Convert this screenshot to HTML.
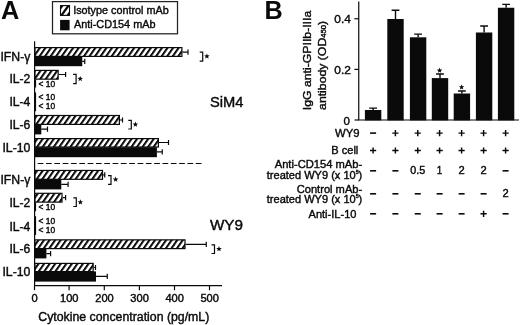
<!DOCTYPE html>
<html><head><meta charset="utf-8"><title>Figure</title>
<style>
html,body{margin:0;padding:0;background:#fff;}
body{width:520px;height:325px;overflow:hidden;}
svg{display:block;filter:grayscale(1);font-family:"Liberation Sans",sans-serif;fill:#0a0a0a;}
text{stroke:#0a0a0a;stroke-width:0.4px;}
</style></head><body>
<svg width="520" height="325" viewBox="0 0 520 325">
<defs>
<pattern id="h" patternUnits="userSpaceOnUse" width="5.55" height="20" patternTransform="skewX(-35)">
<rect x="0" y="0" width="5.55" height="20" fill="#fff"/>
<rect x="0" y="0" width="2.45" height="20" fill="#0a0a0a"/>
</pattern>
</defs>
<rect x="0" y="0" width="520" height="325" fill="#fff"/>

<text x="1.1" y="18.9" font-size="25.3" text-anchor="start" font-weight="bold" style="stroke-width:0">A</text>
<rect x="52.5" y="1.6" width="125" height="32.2" fill="#fff" stroke="#222" stroke-width="1.25"/>
<clipPath id="sw"><rect x="60.5" y="5.6" width="9" height="9.8"/></clipPath>
<g clip-path="url(#sw)" stroke="#0a0a0a" stroke-width="2.2" fill="none"><path d="M55.12,15.74 L66.74,-0.54 M59.19,18.64 L70.81,2.36 M63.26,21.54 L74.88,5.26"/></g>
<rect x="60.5" y="5.6" width="9" height="9.8" fill="none" stroke="#0a0a0a" stroke-width="1.1"/>
<rect x="60.1" y="19.9" width="9.5" height="10.4" fill="#0a0a0a"/>
<text x="73.2" y="14.1" font-size="11" text-anchor="start" textLength="95.5" lengthAdjust="spacingAndGlyphs" >Isotype control mAb</text>
<text x="74.0" y="27.6" font-size="11" text-anchor="start" textLength="81.5" lengthAdjust="spacingAndGlyphs" >Anti-CD154 mAb</text>
<path d="M34.6,41.3 V285.6 H222" fill="none" stroke="#0a0a0a" stroke-width="1.2"/>
<path d="M34.5,285.6 V290.2" stroke="#0a0a0a" stroke-width="1.2"/>
<text x="34.7" y="301.5" font-size="10.4" text-anchor="middle" textLength="6.2" lengthAdjust="spacingAndGlyphs" >0</text>
<path d="M69.1,285.6 V290.2" stroke="#0a0a0a" stroke-width="1.2"/>
<text x="69.3" y="301.5" font-size="10.4" text-anchor="middle" textLength="18.5" lengthAdjust="spacingAndGlyphs" >100</text>
<path d="M104.3,285.6 V290.2" stroke="#0a0a0a" stroke-width="1.2"/>
<text x="104.5" y="301.5" font-size="10.4" text-anchor="middle" textLength="18.5" lengthAdjust="spacingAndGlyphs" >200</text>
<path d="M139.4,285.6 V290.2" stroke="#0a0a0a" stroke-width="1.2"/>
<text x="139.6" y="301.5" font-size="10.4" text-anchor="middle" textLength="18.5" lengthAdjust="spacingAndGlyphs" >300</text>
<path d="M174.5,285.6 V290.2" stroke="#0a0a0a" stroke-width="1.2"/>
<text x="174.7" y="301.5" font-size="10.4" text-anchor="middle" textLength="18.5" lengthAdjust="spacingAndGlyphs" >400</text>
<path d="M209.5,285.6 V290.2" stroke="#0a0a0a" stroke-width="1.2"/>
<text x="209.7" y="301.5" font-size="10.4" text-anchor="middle" textLength="18.5" lengthAdjust="spacingAndGlyphs" >500</text>
<text x="38.3" y="320.6" font-size="12" text-anchor="start" textLength="171" lengthAdjust="spacingAndGlyphs" >Cytokine concentration (pg/mL)</text>
<path d="M37.7,163.5 H202" stroke="#0a0a0a" stroke-width="1.1" stroke-dasharray="5.7,2.62" fill="none"/>
<text x="30.4" y="61" font-size="12" text-anchor="end" textLength="30" lengthAdjust="spacingAndGlyphs" >IFN-γ</text>
<text x="30.4" y="83.2" font-size="12" text-anchor="end" textLength="21" lengthAdjust="spacingAndGlyphs" >IL-2</text>
<text x="30.4" y="105.7" font-size="12" text-anchor="end" textLength="21" lengthAdjust="spacingAndGlyphs" >IL-4</text>
<text x="30.4" y="129" font-size="12" text-anchor="end" textLength="21" lengthAdjust="spacingAndGlyphs" >IL-6</text>
<text x="30.4" y="151.5" font-size="12" text-anchor="end" textLength="28" lengthAdjust="spacingAndGlyphs" >IL-10</text>
<text x="30.4" y="183.8" font-size="12" text-anchor="end" textLength="30" lengthAdjust="spacingAndGlyphs" >IFN-γ</text>
<text x="30.4" y="207.2" font-size="12" text-anchor="end" textLength="21" lengthAdjust="spacingAndGlyphs" >IL-2</text>
<text x="30.4" y="230.6" font-size="12" text-anchor="end" textLength="21" lengthAdjust="spacingAndGlyphs" >IL-4</text>
<text x="30.4" y="252.6" font-size="12" text-anchor="end" textLength="21" lengthAdjust="spacingAndGlyphs" >IL-6</text>
<text x="30.4" y="275.6" font-size="12" text-anchor="end" textLength="28" lengthAdjust="spacingAndGlyphs" >IL-10</text>
<text x="210" y="106.6" font-size="14.4" text-anchor="start" textLength="33.5" lengthAdjust="spacingAndGlyphs" >SiM4</text>
<text x="210" y="229.8" font-size="14.4" text-anchor="start" textLength="33" lengthAdjust="spacingAndGlyphs" >WY9</text>
<rect x="35" y="47.6" width="146.9" height="8.80" fill="url(#h)" stroke="#0a0a0a" stroke-width="1.2"/>
<path d="M182.5,52.1 H188 M188,49.5 V54.7" fill="none" stroke="#0a0a0a" stroke-width="1.2"/>
<rect x="35" y="56.6" width="47.25" height="9.60" fill="#0a0a0a"/>
<path d="M82.25,61.4 H84.75 M84.75,58.8 V64.0" fill="none" stroke="#0a0a0a" stroke-width="1.2"/>
<path d="M199.7,52.2 H202.7 V61.2 H199.7" fill="none" stroke="#0a0a0a" stroke-width="1.2" stroke-linejoin="miter"/>
<polygon points="206.90,53.40 207.62,55.31 209.66,55.40 208.06,56.68 208.60,58.65 206.90,57.52 205.20,58.65 205.74,56.68 204.14,55.40 206.18,55.31" fill="#0a0a0a"/>
<rect x="35" y="70.39999999999999" width="23.15" height="8.75" fill="url(#h)" stroke="#0a0a0a" stroke-width="1.2"/>
<path d="M58.75,74.5 H65.6 M65.6,71.9 V77.1" fill="none" stroke="#0a0a0a" stroke-width="1.2"/>
<path d="M73.1,74.4 H76.1 V83.7 H73.1" fill="none" stroke="#0a0a0a" stroke-width="1.2" stroke-linejoin="miter"/>
<polygon points="80.20,75.90 80.92,77.81 82.96,77.90 81.36,79.18 81.90,81.15 80.20,80.02 78.50,81.15 79.04,79.18 77.44,77.90 79.48,77.81" fill="#0a0a0a"/>
<rect x="35" y="115.5" width="84.4" height="8.90" fill="url(#h)" stroke="#0a0a0a" stroke-width="1.2"/>
<path d="M120,120 H122.5 M122.5,117.4 V122.6" fill="none" stroke="#0a0a0a" stroke-width="1.2"/>
<rect x="35" y="124.6" width="6.299999999999997" height="9.80" fill="#0a0a0a"/>
<path d="M41.3,129.1 H47.5 M47.5,126.5 V131.7" fill="none" stroke="#0a0a0a" stroke-width="1.2"/>
<path d="M128.3,120.3 H131.3 V129 H128.3" fill="none" stroke="#0a0a0a" stroke-width="1.2" stroke-linejoin="miter"/>
<polygon points="135.40,121.60 136.12,123.51 138.16,123.60 136.56,124.88 137.10,126.85 135.40,125.72 133.70,126.85 134.24,124.88 132.64,123.60 134.68,123.51" fill="#0a0a0a"/>
<rect x="35" y="138.6" width="123.4" height="8.40" fill="url(#h)" stroke="#0a0a0a" stroke-width="1.2"/>
<path d="M159,142.5 H168.5 M168.5,139.9 V145.1" fill="none" stroke="#0a0a0a" stroke-width="1.2"/>
<rect x="35" y="147.2" width="121.9" height="10.00" fill="#0a0a0a"/>
<path d="M156.9,151.8 H162.25 M162.25,149.20000000000002 V154.4" fill="none" stroke="#0a0a0a" stroke-width="1.2"/>
<rect x="35" y="170.45" width="67.5" height="8.85" fill="url(#h)" stroke="#0a0a0a" stroke-width="1.2"/>
<path d="M103.1,174.875 H104.75 M104.75,172.275 V177.475" fill="none" stroke="#0a0a0a" stroke-width="1.2"/>
<rect x="35" y="179.2" width="26.299999999999997" height="10.20" fill="#0a0a0a"/>
<path d="M61.3,184.3 H68.1 M68.1,181.70000000000002 V186.9" fill="none" stroke="#0a0a0a" stroke-width="1.2"/>
<path d="M108,175.6 H111 V184.4 H108" fill="none" stroke="#0a0a0a" stroke-width="1.2" stroke-linejoin="miter"/>
<polygon points="115.60,176.60 116.32,178.51 118.36,178.60 116.76,179.88 117.30,181.85 115.60,180.72 113.90,181.85 114.44,179.88 112.84,178.60 114.88,178.51" fill="#0a0a0a"/>
<rect x="35" y="193.29999999999998" width="27.0" height="8.80" fill="url(#h)" stroke="#0a0a0a" stroke-width="1.2"/>
<path d="M62.6,197.7 H65.6 M65.6,195.1 V200.29999999999998" fill="none" stroke="#0a0a0a" stroke-width="1.2"/>
<path d="M73.3,197.8 H76.3 V206.5 H73.3" fill="none" stroke="#0a0a0a" stroke-width="1.2" stroke-linejoin="miter"/>
<polygon points="80.40,199.30 81.12,201.21 83.16,201.30 81.56,202.58 82.10,204.55 80.40,203.42 78.70,204.55 79.24,202.58 77.64,201.30 79.68,201.21" fill="#0a0a0a"/>
<rect x="35" y="239.85" width="150.0" height="8.75" fill="url(#h)" stroke="#0a0a0a" stroke-width="1.2"/>
<path d="M185.6,244.4 H206.25 M206.25,241.8 V247.0" fill="none" stroke="#0a0a0a" stroke-width="1.2"/>
<rect x="35" y="248.6" width="11.399999999999999" height="9.80" fill="#0a0a0a"/>
<path d="M46.4,253.7 H50.6 M50.6,251.1 V256.3" fill="none" stroke="#0a0a0a" stroke-width="1.2"/>
<path d="M211.5,244.8 H214.5 V253.5 H211.5" fill="none" stroke="#0a0a0a" stroke-width="1.2" stroke-linejoin="miter"/>
<polygon points="219.00,246.10 219.72,248.01 221.76,248.10 220.16,249.38 220.70,251.35 219.00,250.22 217.30,251.35 217.84,249.38 216.24,248.10 218.28,248.01" fill="#0a0a0a"/>
<rect x="35" y="263.40000000000003" width="58.15" height="8.20" fill="url(#h)" stroke="#0a0a0a" stroke-width="1.2"/>
<path d="M93.75,267.5 H95.5 M95.5,264.9 V270.1" fill="none" stroke="#0a0a0a" stroke-width="1.2"/>
<rect x="35" y="271.4" width="61" height="10.20" fill="#0a0a0a"/>
<path d="M96,276.3 H107.25 M107.25,273.7 V278.90000000000003" fill="none" stroke="#0a0a0a" stroke-width="1.2"/>
<text x="38.6" y="87" font-size="8.2" text-anchor="start" textLength="16.6" lengthAdjust="spacingAndGlyphs" >&lt; 10</text>
<text x="38.6" y="99.7" font-size="8.2" text-anchor="start" textLength="16.6" lengthAdjust="spacingAndGlyphs" >&lt; 10</text>
<text x="38.6" y="108.8" font-size="8.2" text-anchor="start" textLength="16.6" lengthAdjust="spacingAndGlyphs" >&lt; 10</text>
<text x="38.6" y="210.3" font-size="8.2" text-anchor="start" textLength="16.6" lengthAdjust="spacingAndGlyphs" >&lt; 10</text>
<text x="38.6" y="223.8" font-size="8.2" text-anchor="start" textLength="16.6" lengthAdjust="spacingAndGlyphs" >&lt; 10</text>
<text x="38.6" y="233.2" font-size="8.2" text-anchor="start" textLength="16.6" lengthAdjust="spacingAndGlyphs" >&lt; 10</text>
<path d="M35.1,80 V87.5" stroke="#0a0a0a" stroke-width="2"/>
<path d="M35.1,92.5 V111.2" stroke="#0a0a0a" stroke-width="2"/>
<path d="M35.1,202.7 V211.2" stroke="#0a0a0a" stroke-width="2"/>
<path d="M35.1,216.2 V235" stroke="#0a0a0a" stroke-width="2"/>
<text x="264.6" y="19.1" font-size="25.2" text-anchor="start" font-weight="bold" style="stroke-width:0">B</text>
<path d="M358.75,1.5 V120 H519" fill="none" stroke="#0a0a0a" stroke-width="1.2"/>
<path d="M354.4,18.75 H358.75" stroke="#0a0a0a" stroke-width="1.2"/>
<text x="350.9" y="23.05" font-size="11.5" text-anchor="end" textLength="16.6" lengthAdjust="spacingAndGlyphs" >0.4</text>
<path d="M354.4,69.4 H358.75" stroke="#0a0a0a" stroke-width="1.2"/>
<text x="350.9" y="73.7" font-size="11.5" text-anchor="end" textLength="16.6" lengthAdjust="spacingAndGlyphs" >0.2</text>
<text x="350.0" y="124.5" font-size="11.5" text-anchor="end" >0</text>
<path d="M354.6,120 H358.75" stroke="#0a0a0a" stroke-width="1.2"/>
<g transform="translate(311,60.5) rotate(-90)">
<text x="0" y="0" font-size="11.5" text-anchor="middle" textLength="99.5" lengthAdjust="spacingAndGlyphs" >IgG anti-GPIIb-IIIa</text>
</g>
<g transform="translate(326.3,65.4) rotate(-90)">
<text x="0" y="0" font-size="11.5" text-anchor="middle" textLength="89" lengthAdjust="spacingAndGlyphs">antibody (OD<tspan font-size="7.2">450</tspan>)</text>
</g>
<rect x="364.90000000000003" y="110" width="16.4" height="10.40" fill="#0a0a0a"/>
<path d="M373.1,110 V108.1 M369.20000000000005,108.1 H377.0" stroke="#0a0a0a" stroke-width="1.4" fill="none"/>
<rect x="387.3" y="19" width="16.4" height="101.40" fill="#0a0a0a"/>
<path d="M395.5,19 V10.3 M391.6,10.3 H399.4" stroke="#0a0a0a" stroke-width="1.4" fill="none"/>
<rect x="409.90000000000003" y="37.3" width="16.4" height="83.10" fill="#0a0a0a"/>
<path d="M418.1,37.3 V34.1 M414.20000000000005,34.1 H422.0" stroke="#0a0a0a" stroke-width="1.4" fill="none"/>
<rect x="431.8" y="78.1" width="16.4" height="42.30" fill="#0a0a0a"/>
<path d="M440,78.1 V74 M436.1,74 H443.9" stroke="#0a0a0a" stroke-width="1.4" fill="none"/>
<rect x="453.7" y="93.5" width="16.4" height="26.90" fill="#0a0a0a"/>
<path d="M461.9,93.5 V91 M458.0,91 H465.79999999999995" stroke="#0a0a0a" stroke-width="1.4" fill="none"/>
<rect x="475.90000000000003" y="32.5" width="16.4" height="87.90" fill="#0a0a0a"/>
<path d="M484.1,32.5 V26 M480.20000000000005,26 H488.0" stroke="#0a0a0a" stroke-width="1.4" fill="none"/>
<rect x="497.90000000000003" y="7.75" width="16.4" height="112.65" fill="#0a0a0a"/>
<path d="M506.1,7.75 V4.4 M502.20000000000005,4.4 H510.0" stroke="#0a0a0a" stroke-width="1.4" fill="none"/>
<polygon points="439.60,67.60 440.32,69.51 442.36,69.60 440.76,70.88 441.30,72.85 439.60,71.72 437.90,72.85 438.44,70.88 436.84,69.60 438.88,69.51" fill="#0a0a0a"/>
<polygon points="461.60,84.30 462.32,86.21 464.36,86.30 462.76,87.58 463.30,89.55 461.60,88.42 459.90,89.55 460.44,87.58 458.84,86.30 460.88,86.21" fill="#0a0a0a"/>
<path d="M370.1,133.1 H376.1" stroke="#0a0a0a" stroke-width="1.6" fill="none"/>
<path d="M392.29999999999995,133.1 H398.5 M395.4,130.0 V136.2" stroke="#0a0a0a" stroke-width="1.45" fill="none"/>
<path d="M414.65,133.1 H420.85 M417.75,130.0 V136.2" stroke="#0a0a0a" stroke-width="1.45" fill="none"/>
<path d="M436.5,133.1 H442.70000000000005 M439.6,130.0 V136.2" stroke="#0a0a0a" stroke-width="1.45" fill="none"/>
<path d="M458.5,133.1 H464.70000000000005 M461.6,130.0 V136.2" stroke="#0a0a0a" stroke-width="1.45" fill="none"/>
<path d="M480.5,133.1 H486.70000000000005 M483.6,130.0 V136.2" stroke="#0a0a0a" stroke-width="1.45" fill="none"/>
<path d="M502.5,133.1 H508.70000000000005 M505.6,130.0 V136.2" stroke="#0a0a0a" stroke-width="1.45" fill="none"/>
<path d="M370.0,150.5 H376.20000000000005 M373.1,147.4 V153.6" stroke="#0a0a0a" stroke-width="1.45" fill="none"/>
<path d="M392.29999999999995,150.5 H398.5 M395.4,147.4 V153.6" stroke="#0a0a0a" stroke-width="1.45" fill="none"/>
<path d="M414.65,150.5 H420.85 M417.75,147.4 V153.6" stroke="#0a0a0a" stroke-width="1.45" fill="none"/>
<path d="M436.5,150.5 H442.70000000000005 M439.6,147.4 V153.6" stroke="#0a0a0a" stroke-width="1.45" fill="none"/>
<path d="M458.5,150.5 H464.70000000000005 M461.6,147.4 V153.6" stroke="#0a0a0a" stroke-width="1.45" fill="none"/>
<path d="M480.5,150.5 H486.70000000000005 M483.6,147.4 V153.6" stroke="#0a0a0a" stroke-width="1.45" fill="none"/>
<path d="M502.5,150.5 H508.70000000000005 M505.6,147.4 V153.6" stroke="#0a0a0a" stroke-width="1.45" fill="none"/>
<path d="M370.1,170.8 H376.1" stroke="#0a0a0a" stroke-width="1.6" fill="none"/>
<path d="M392.4,170.8 H398.4" stroke="#0a0a0a" stroke-width="1.6" fill="none"/>
<text x="417.75" y="174.3" font-size="11" text-anchor="middle" textLength="15" lengthAdjust="spacingAndGlyphs" >0.5</text>
<text x="439.6" y="174.3" font-size="11" text-anchor="middle" textLength="5.5" lengthAdjust="spacingAndGlyphs" >1</text>
<text x="461.6" y="174.3" font-size="11" text-anchor="middle" textLength="6.2" lengthAdjust="spacingAndGlyphs" >2</text>
<text x="483.6" y="174.3" font-size="11" text-anchor="middle" textLength="6.2" lengthAdjust="spacingAndGlyphs" >2</text>
<path d="M502.6,170.8 H508.6" stroke="#0a0a0a" stroke-width="1.6" fill="none"/>
<path d="M370.1,193.8 H376.1" stroke="#0a0a0a" stroke-width="1.6" fill="none"/>
<path d="M392.4,193.8 H398.4" stroke="#0a0a0a" stroke-width="1.6" fill="none"/>
<path d="M414.75,193.8 H420.75" stroke="#0a0a0a" stroke-width="1.6" fill="none"/>
<path d="M436.6,193.8 H442.6" stroke="#0a0a0a" stroke-width="1.6" fill="none"/>
<path d="M458.6,193.8 H464.6" stroke="#0a0a0a" stroke-width="1.6" fill="none"/>
<path d="M480.6,193.8 H486.6" stroke="#0a0a0a" stroke-width="1.6" fill="none"/>
<text x="505.6" y="197.3" font-size="11" text-anchor="middle" textLength="6.2" lengthAdjust="spacingAndGlyphs" >2</text>
<path d="M370.1,213.8 H376.1" stroke="#0a0a0a" stroke-width="1.6" fill="none"/>
<path d="M392.4,213.8 H398.4" stroke="#0a0a0a" stroke-width="1.6" fill="none"/>
<path d="M414.75,213.8 H420.75" stroke="#0a0a0a" stroke-width="1.6" fill="none"/>
<path d="M436.6,213.8 H442.6" stroke="#0a0a0a" stroke-width="1.6" fill="none"/>
<path d="M458.6,213.8 H464.6" stroke="#0a0a0a" stroke-width="1.6" fill="none"/>
<path d="M480.5,213.8 H486.70000000000005 M483.6,210.70000000000002 V216.9" stroke="#0a0a0a" stroke-width="1.45" fill="none"/>
<path d="M502.6,213.8 H508.6" stroke="#0a0a0a" stroke-width="1.6" fill="none"/>
<text x="359.6" y="137.1" font-size="11" text-anchor="end" textLength="24.5" lengthAdjust="spacingAndGlyphs" >WY9</text>
<text x="358.3" y="153.8" font-size="11" text-anchor="end" textLength="27" lengthAdjust="spacingAndGlyphs" >B cell</text>
<text x="362.2" y="167.6" font-size="11" text-anchor="end" textLength="87.5" lengthAdjust="spacingAndGlyphs" >Anti-CD154 mAb-</text>
<text x="362.3" y="178.5" font-size="11" text-anchor="end" textLength="95.5" lengthAdjust="spacingAndGlyphs">treated WY9 (x 10<tspan font-size="5.2" dy="-4.6">5</tspan><tspan dy="4.6">)</tspan></text>
<text x="362.2" y="192.6" font-size="11" text-anchor="end" textLength="65.5" lengthAdjust="spacingAndGlyphs" >Control mAb-</text>
<text x="362.3" y="202.8" font-size="11" text-anchor="end" textLength="95.5" lengthAdjust="spacingAndGlyphs">treated WY9 (x 10<tspan font-size="5.2" dy="-4.6">5</tspan><tspan dy="4.6">)</tspan></text>
<text x="356.5" y="217.5" font-size="11" text-anchor="end" textLength="48" lengthAdjust="spacingAndGlyphs" >Anti-IL-10</text>
</svg></body></html>
